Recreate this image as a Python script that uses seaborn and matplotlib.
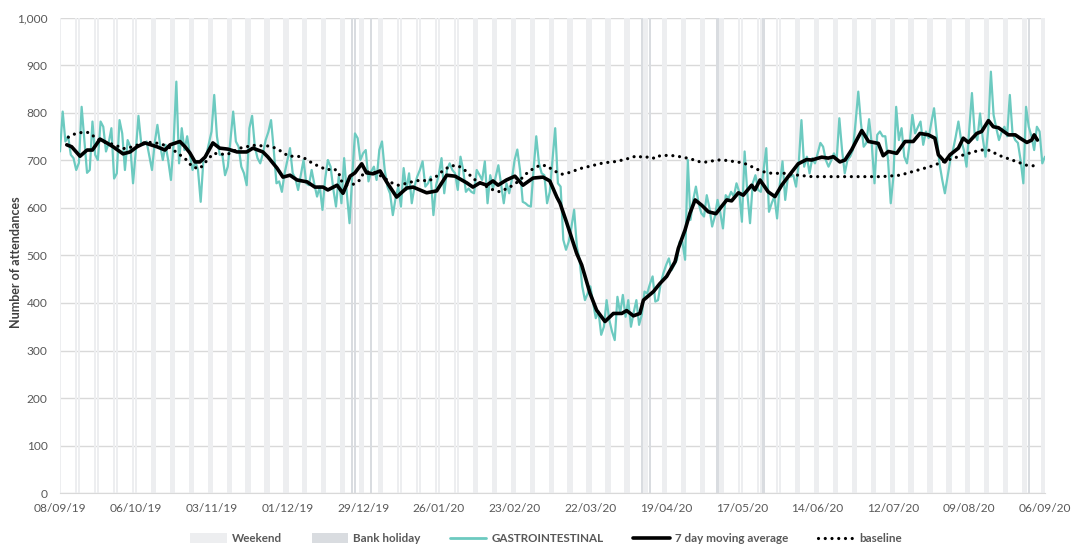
import pandas as pd
import numpy as np
import matplotlib
matplotlib.use('Agg')
import matplotlib.pyplot as plt
import matplotlib.dates as mdates
from matplotlib.patches import Patch
from matplotlib.lines import Line2D
import seaborn as sns

# Data
start_date = '2019-09-08'

# daily attendances, 08/09/19 .. 06/09/20 (one row = one week)
gastro = [
    719, 803, 740, 751, 712, 705, 680,
    695, 813, 743, 674, 680, 782, 712,
    701, 782, 771, 719, 737, 768, 662,
    673, 785, 757, 680, 743, 729, 652,
    719, 794, 737, 733, 740, 710, 680,
    737, 775, 733, 701, 733, 700, 659,
    737, 866, 694, 768, 722, 751, 712,
    680, 698, 680, 613, 701, 709, 735,
    761, 838, 751, 712, 712, 669, 687,
    743, 803, 740, 729, 687, 673, 648,
    768, 794, 729, 705, 694, 715, 743,
    760, 785, 722, 652, 656, 634, 673,
    700, 726, 673, 662, 638, 670, 701,
    652, 648, 680, 650, 624, 645, 596,
    662, 701, 687, 640, 603, 666, 610,
    705, 631, 568, 666, 757, 747, 701,
    715, 722, 656, 677, 687, 659, 722,
    740, 680, 645, 630, 585, 620, 645,
    603, 684, 638, 673, 610, 645, 666,
    680, 698, 645, 652, 666, 585, 648,
    670, 705, 631, 680, 694, 680, 673,
    638, 708, 680, 634, 641, 634, 631,
    680, 670, 659, 698, 610, 669, 641,
    666, 690, 650, 610, 652, 631, 660,
    701, 723, 680, 613, 610, 605, 603,
    680, 751, 694, 673, 669, 610, 634,
    700, 768, 652, 645, 533, 512, 529,
    560, 596, 519, 491, 435, 406, 420,
    435, 400, 368, 382, 333, 350, 406,
    364, 340, 322, 413, 378, 417, 371,
    406, 350, 380, 406, 354, 375, 424,
    420, 440, 456, 403, 406, 441, 463,
    480, 494, 469, 480, 491, 529, 529,
    491, 701, 575, 617, 645, 610, 589,
    582, 627, 600, 561, 582, 617, 590,
    557, 627, 620, 634, 624, 652, 634,
    571, 719, 631, 568, 652, 669, 638,
    634, 680, 726, 592, 610, 624, 578,
    650, 698, 617, 666, 666, 669, 645,
    694, 785, 687, 708, 673, 705, 694,
    715, 737, 729, 701, 687, 700, 715,
    701, 789, 722, 673, 701, 708, 722,
    780, 845, 778, 729, 737, 787, 733,
    652, 754, 761, 751, 751, 701, 610,
    666, 813, 743, 768, 708, 694, 737,
    796, 757, 770, 782, 733, 761, 747,
    780, 810, 751, 694, 660, 631, 666,
    701, 722, 750, 782, 743, 722, 687,
    764, 842, 757, 743, 799, 747, 708,
    764, 887, 796, 768, 743, 760, 771,
    751, 838, 757, 743, 737, 700, 652,
    813, 771, 751, 722, 771, 761, 694,
    708,
]

# 7 day moving average (days after start, value)
ma_days = [2.5, 4.3, 7.4, 10, 12, 14.8, 17.3, 19.6, 23.3, 25.9, 28.5, 31.4, 35.8,
           38.8, 40.7, 44.3, 46.2, 48, 49.9, 51.7, 53.6, 56.5, 59, 62, 65.4, 69,
           71.3, 75, 76.9, 80.2, 82.4, 85, 87.6, 91.3, 94.2, 97.2, 99, 102.4,
           104.6, 107.2, 109, 111.5, 113.3, 115.7, 118.3, 120.7, 124.4, 128.1,
           130.5, 135.5, 139.2, 142.9, 146, 150.3, 152.6, 155.2, 157.7, 160,
           161.9, 165, 168.1, 171.1, 174.8, 178.5, 181, 183.6, 184.8, 187.2,
           190.9, 192.8, 195.9, 198.3, 201.4, 204.5, 207.6, 209.4, 211.9, 214.3,
           215.6, 219.3, 221.7, 224.2, 227.3, 228.5, 231, 232.8, 234.7, 237.1,
           239.6, 242.4, 246.4, 248.2, 250.7, 252.5, 255.6, 256.8, 258.7, 261.7,
           264.2, 266.7, 269.1, 272.8, 275.9, 277.8, 281.5, 283.9, 285.8, 288.2,
           290.1, 292.6, 294.4, 296.3, 298.8, 302.4, 304.2, 306.1, 309.2, 312.3,
           315.3, 317.8, 320.9, 323.3, 324.6, 327, 328.9, 332, 333.8, 335.7,
           338.8, 340.6, 343.1, 344.9, 346.8, 350.5, 353, 354.8, 357.3, 359.1,
           360, 361.2]
ma_vals = [733, 729, 709, 722, 722, 745, 737, 729, 714, 718, 729, 737, 729,
           722, 733, 740, 729, 716, 697, 697, 707, 737, 726, 724, 718, 718,
           726, 718, 707, 684, 665, 669, 659, 655, 644, 644, 638, 648,
           631, 667, 674, 693, 674, 672, 678, 655, 623, 642,
           644, 632, 636, 669, 667, 653, 644, 653, 648, 657,
           648, 659, 667, 648, 663, 665, 657, 623, 610, 570,
           505, 480, 420, 385, 361, 378, 378, 384, 373, 378,
           406, 424, 441, 456, 487, 515, 554, 589, 617, 606,
           592, 588, 617, 615, 632, 627, 648, 638, 659, 634,
           624, 648, 666, 693, 702, 701, 707, 705, 708, 697,
           701, 723, 743, 763, 740, 736, 710, 719, 715, 740,
           740, 757, 754, 747, 712, 697, 712, 726, 747, 738,
           757, 761, 784, 771, 769, 754, 754, 747, 738, 743,
           754, 743]

# baseline (days after start, value)
base_days = [3.1, 5.5, 8, 10.5, 12.7, 15.4, 18.5, 21, 23.4, 27.1, 29.6, 32, 34.5,
             37, 39.4, 41.9, 44.3, 46.8, 49, 51.7, 54, 56.7, 59.1, 61.6, 64,
             66.5, 69, 71.4, 73.9, 76.4, 78.8, 81.9, 84.4, 86.8, 89.3, 91.2,
             93.6, 96.1, 98.6, 101, 102.8, 104.1, 106, 108.4, 110.9, 112.1,
             114.6, 117, 120.1, 122.6, 125, 128.1, 130.6, 133.7, 136.1, 139.2,
             141.6, 144.1, 146.6, 149, 151.5, 154, 157.7, 160.1, 162.6, 165.1,
             167.5, 170, 172.5, 174.9, 177.4, 179.9, 182.3, 185.4, 188.5, 192.2,
             195.9, 200.8, 205.7, 210.6, 213.2, 215.6, 218, 219.9, 221.7, 225.4,
             230.3, 233.8, 235.9, 237.7, 240.2, 242.7, 245.1, 248.8, 252.5,
             255.6, 259.3, 263, 267.9, 272.8, 277.8, 285, 295, 303.7, 310.4,
             315.3, 321.5, 327.7, 334, 340, 343.1, 347.4, 352.3, 357.2, 361.5]
base_vals = [749, 756, 759, 759, 750, 740, 736, 731, 725, 729, 735, 738, 738,
             735, 731, 722, 712, 701, 686, 683, 698, 715, 714, 712, 719,
             726, 729, 732, 731, 731, 728, 719, 709, 709, 708, 702,
             693, 687, 680, 683, 677, 656, 648, 650, 659, 673,
             677, 673, 662, 653, 648, 652, 656, 659, 656, 667,
             679, 688, 690, 683, 669, 656, 645, 638, 634, 641,
             648, 659, 673, 683, 690, 689, 679, 671, 675, 683,
             688, 695, 698, 705, 710, 706, 708, 704, 710, 711,
             707, 702, 698, 696, 698, 701, 701, 698, 695,
             687, 677, 673, 673, 669, 666, 666, 666, 666, 669,
             677, 687, 700, 712, 722, 722, 710, 700, 690, 688]

bank_holidays = ['2019-12-25', '2019-12-26', '2020-01-01', '2020-04-10',
                 '2020-04-13', '2020-05-08', '2020-05-25', '2020-08-31']

# Pengaturan visualisasi
sns.set_style('white')
plt.rcParams['font.family'] = ['Lato', 'DejaVu Sans']

teal = '#6CCAC0'
weekend_col = '#EDEEF0'
bankhol_col = '#D9DCE0'
grey_text = '#595959'
dots = (0, (0.01, 2.1))

start = pd.Timestamp(start_date)
df = pd.DataFrame({'date': pd.date_range(start, periods=len(gastro)), 'count': gastro})
ma_df = pd.DataFrame({'date': start + pd.to_timedelta(ma_days, unit='D'), 'ma': ma_vals})
base_df = pd.DataFrame({'date': start + pd.to_timedelta(base_days, unit='D'), 'baseline': base_vals})

weekends = df.loc[df['date'].dt.weekday >= 5, 'date']
bh = pd.to_datetime(bank_holidays)

fig = plt.figure(figsize=(10.73, 5.45), dpi=100)
ax = fig.add_axes([0.0559, 0.0954, 0.9180, 0.8716])

ax.bar(weekends, 1000, width=0.92, color=weekend_col, edgecolor='none',
       linewidth=0, align='center', zorder=1)
ax.bar(bh, 1000, width=0.92, color=bankhol_col, edgecolor='none',
       linewidth=0, align='center', zorder=1.1)

sns.lineplot(data=df, x='date', y='count', color=teal, lw=1.6, ax=ax, zorder=3)
sns.lineplot(data=ma_df, x='date', y='ma', color='black', lw=2.6, ax=ax, zorder=4)
ax.plot(base_df['date'], base_df['baseline'], color='black', lw=2.3,
        linestyle=dots, dash_capstyle='round', zorder=4)

ax.set_ylim(0, 1000)
ax.set_yticks(range(0, 1001, 100))
ax.yaxis.set_major_formatter(matplotlib.ticker.FuncFormatter(lambda v, p: f'{int(v):,}'))
ax.set_xlim(start, pd.Timestamp('2020-09-06'))
ax.set_xticks(pd.date_range(start, '2020-09-06', freq='28D'))
ax.xaxis.set_major_formatter(mdates.DateFormatter('%d/%m/%y'))

ax.grid(axis='y', color='#D9D9D9', lw=1)
ax.set_axisbelow(True)
for s in ['top', 'right', 'left']:
    ax.spines[s].set_visible(False)
ax.spines['bottom'].set_color('#D9D9D9')
ax.tick_params(axis='x', colors='#D9D9D9', labelcolor=grey_text, labelsize=8.6,
               length=4, width=1, pad=3)
ax.tick_params(axis='y', labelcolor=grey_text, labelsize=8.6, length=0, pad=9)
ax.set_xlabel('')
ax.set_ylabel('Number of attendances', fontsize=9, fontweight='bold',
              color='#404040')
ax.yaxis.set_label_coords(-0.039, 0.486)

handles = [
    Patch(facecolor=weekend_col, edgecolor='none', label='Weekend'),
    Patch(facecolor=bankhol_col, edgecolor='none', label='Bank holiday'),
    Line2D([0], [0], color=teal, lw=2, label='GASTROINTESTINAL'),
    Line2D([0], [0], color='black', lw=2.6, label='7 day moving average'),
    Line2D([0], [0], color='black', lw=2.3, linestyle=dots,
           dash_capstyle='round', label='baseline'),
]
leg = fig.legend(handles=handles, loc='center', bbox_to_anchor=(0.509, 0.012),
                 ncol=5, frameon=False, fontsize=8.4, handlelength=3.1,
                 handleheight=0.9, columnspacing=2.55, handletextpad=0.45)
for t in leg.get_texts():
    t.set_color(grey_text)
    t.set_fontweight('bold')

plt.savefig('out.png', dpi=100)
